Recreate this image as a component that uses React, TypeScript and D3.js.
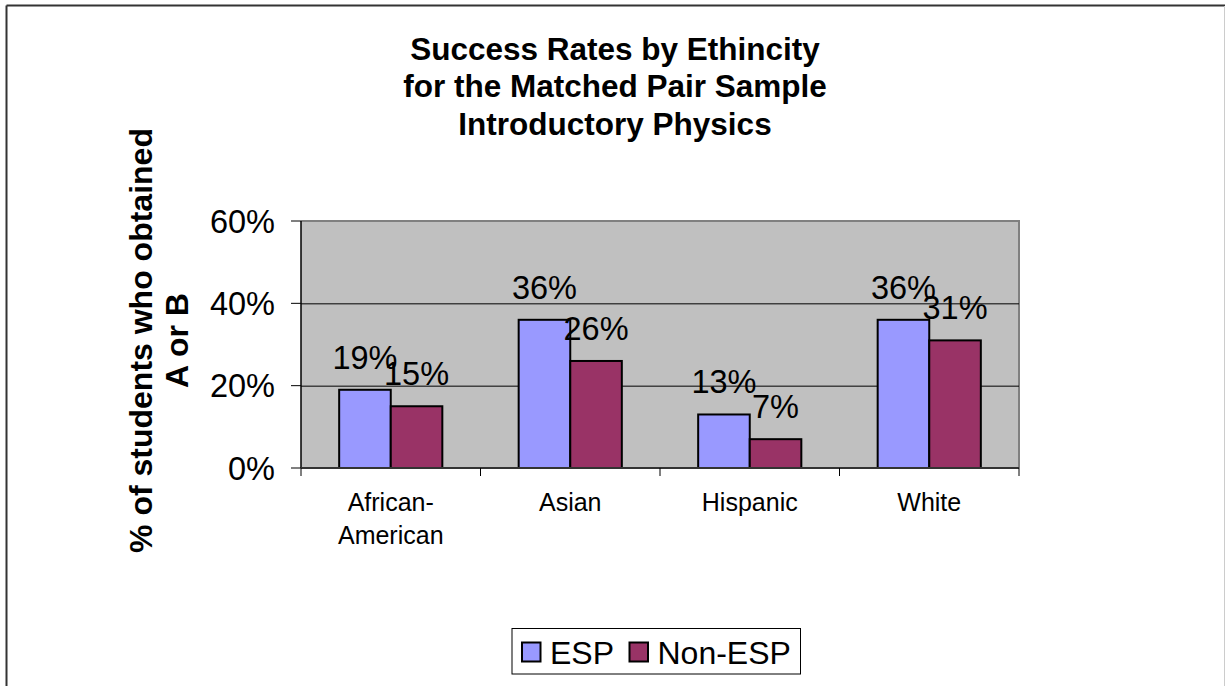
import { scaleBand, scaleLinear } from 'd3';

const width = 1225;
const height = 686;

const categories = [['African-', 'American'], ['Asian'], ['Hispanic'], ['White']];
const categoryKeys = ['African-American', 'Asian', 'Hispanic', 'White'];
const seriesNames = ['ESP', 'Non-ESP'];
const espValues = [0.19, 0.36, 0.13, 0.36];
const nonEspValues = [0.15, 0.26, 0.07, 0.31];
const yTicks = [0, 0.2, 0.4, 0.6];
const titleLines = ['Success Rates by Ethincity', 'for the Matched Pair Sample', 'Introductory Physics'];
const yTitleLines = ['% of students who obtained', 'A or B'];

const colors = ['#9999FF', '#993366'];
const font = 'Arial, "Liberation Sans", sans-serif';

const plot = { left: 301, right: 1019, top: 221, bottom: 468 };

const x0 = scaleBand().domain(categoryKeys).range([plot.left, plot.right]).padding(0);
const x1 = scaleBand().domain(seriesNames).range([0, x0.bandwidth()]).paddingInner(0).paddingOuter(0.74);
const y = scaleLinear().domain([0, 0.6]).range([plot.bottom, plot.top]);

const fmt = (v: number) => `${Math.round(v * 100)}%`;

const App = () => {
  const seriesData = [espValues, nonEspValues];
  return (
    <svg
      width={width}
      height={height}
      style={{ position: 'absolute', left: 0, top: 0, background: '#fff' }}
      fontFamily={font}
    >
      {/* outer frame, bottom edge cut off */}
      <line x1={6.5} y1={5.5} x2={1225} y2={5.5} stroke="#333" strokeWidth={2} />
      <line x1={6.5} y1={5.5} x2={6.5} y2={686} stroke="#333" strokeWidth={2} />
      <line x1={1224.5} y1={6} x2={1224.5} y2={686} stroke="#ccc" strokeWidth={1} />

      {/* title */}
      <text textAnchor="middle" fontWeight="bold" fontSize={31.5} fill="#000">
        {titleLines.map((t, i) => (
          <tspan key={i} x={615} y={59.5 + i * 37.8}>{t}</tspan>
        ))}
      </text>

      {/* y axis title */}
      {yTitleLines.map((t, i) => (
        <text
          key={i}
          transform={`translate(${152 + i * 36},340.5) rotate(-90)`}
          textAnchor="middle"
          fontWeight="bold"
          fontSize={32}
        >
          {t}
        </text>
      ))}

      {/* plot area */}
      <rect
        x={plot.left}
        y={plot.top}
        width={plot.right - plot.left}
        height={plot.bottom - plot.top}
        fill="#C0C0C0"
      />
      <polyline
        points={`${plot.left},${plot.top} ${plot.right},${plot.top} ${plot.right},${plot.bottom}`}
        fill="none"
        stroke="#808080"
        strokeWidth={2}
      />

      {/* gridlines */}
      {yTicks.filter(t => t > 0 && t < 0.6).map(t => (
        <line key={t} x1={plot.left} x2={plot.right} y1={y(t) + 0.5} y2={y(t) + 0.5} stroke="#000" strokeWidth={1} />
      ))}

      {/* bars */}
      {categoryKeys.map((c, ci) => (
        <g key={c} transform={`translate(${x0(c)},0)`}>
          {seriesNames.map((s, si) => {
            const v = seriesData[si][ci];
            const bx = x1(s) as number;
            return (
              <rect
                key={s}
                x={bx}
                y={y(v)}
                width={x1.bandwidth()}
                height={y(0) - y(v)}
                fill={colors[si]}
                stroke="#000"
                strokeWidth={2}
              />
            );
          })}
        </g>
      ))}

      {/* axes */}
      <line x1={plot.left} x2={plot.left} y1={plot.top} y2={plot.bottom} stroke="#000" strokeWidth={1.5} />
      <line x1={plot.left} x2={plot.right} y1={plot.bottom} y2={plot.bottom} stroke="#333" strokeWidth={2} />
      {yTicks.map(t => (
        <g key={t}>
          <line x1={plot.left - 10} x2={plot.left} y1={y(t)} y2={y(t)} stroke="#000" strokeWidth={1} />
          <text x={275} y={y(t)} dy="0.36em" textAnchor="end" fontSize={32.5}>{fmt(t)}</text>
        </g>
      ))}
      {[...categoryKeys.map(c => x0(c) as number), plot.right].map((tx, i) => (
        <line key={i} x1={tx} x2={tx} y1={plot.bottom} y2={plot.bottom + 8} stroke="#000" strokeWidth={1} />
      ))}

      {/* category labels */}
      {categoryKeys.map((c, ci) => (
        <text key={c} textAnchor="middle" fontSize={25}>
          {categories[ci].map((line, li) => (
            <tspan key={li} x={(x0(c) as number) + x0.bandwidth() / 2} y={511 + li * 32.5}>{line}</tspan>
          ))}
        </text>
      ))}

      {/* value labels */}
      {categoryKeys.map((c, ci) => (
        <g key={c} transform={`translate(${x0(c)},0)`}>
          {seriesNames.map((s, si) => {
            const v = seriesData[si][ci];
            return (
              <text
                key={s}
                x={(x1(s) as number) + x1.bandwidth() / 2}
                y={y(v) - 21}
                textAnchor="middle"
                fontSize={32.5}
              >
                {fmt(v)}
              </text>
            );
          })}
        </g>
      ))}

      {/* legend */}
      <rect x={512} y={628.5} width={288.5} height={45.5} fill="#fff" stroke="#000" strokeWidth={1} />
      {seriesNames.map((s, si) => {
        const lx = si === 0 ? 522 : 629.5;
        return (
          <g key={s}>
            <rect x={lx} y={642.5} width={18.5} height={19} fill={colors[si]} stroke="#000" strokeWidth={2} />
            <text x={lx + 28} y={664} fontSize={32}>{s}</text>
          </g>
        );
      })}
    </svg>
  );
};

export default App;
